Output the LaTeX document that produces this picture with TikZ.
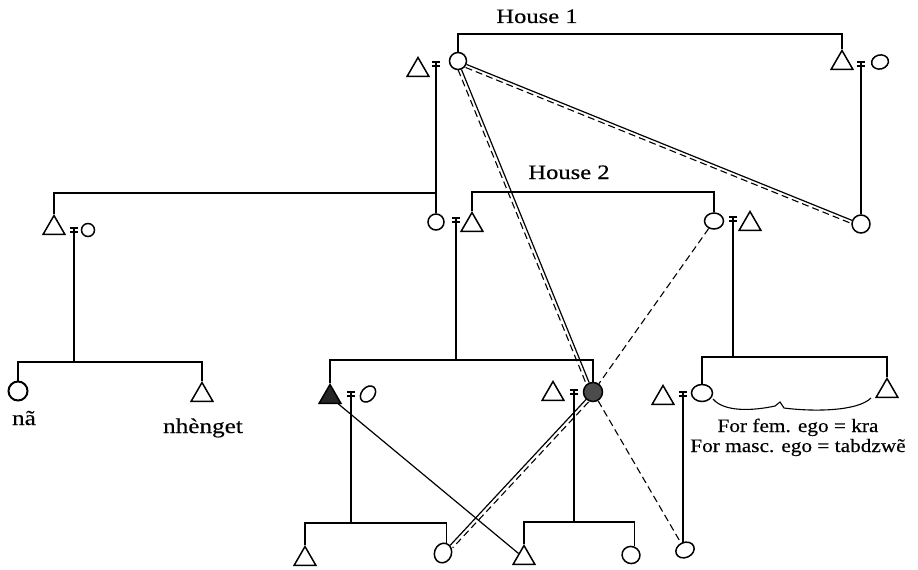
\documentclass[tikz,border=0pt]{standalone}
\usepackage{fontspec}
\setmainfont[FakeStretch=1.12,FakeBold=0.4]{Liberation Serif}
\newfontfamily\widefont[FakeStretch=1.2,FakeBold=0.4]{Liberation Serif}
\usetikzlibrary{shapes.geometric}
\begin{document}
\begin{tikzpicture}[x=1pt,y=-1pt,
  ln/.style={line width=1.2pt},
  dsh/.style={line width=1.1pt, dash pattern=on 7pt off 4pt},
  tri/.style={regular polygon, regular polygon sides=3, draw, line width=1.5pt, minimum size=25pt, inner sep=0pt},
  ftri/.style={tri, fill=black!85},
  circ/.style={circle, draw, line width=1.5pt, inner sep=0pt},
  ell/.style={ellipse, draw, line width=1.5pt, inner sep=0pt},
  eqm/.style={minimum width=8pt, minimum height=8pt, inner sep=0pt,
    path picture={\draw[line width=1.1pt]
      ([yshift=-2pt]path picture bounding box.north west) -- ([yshift=-2pt]path picture bounding box.north east)
      ([yshift=2pt]path picture bounding box.south west) -- ([yshift=2pt]path picture bounding box.south east);}},
  lbl/.style={anchor=base, inner sep=0pt}
]
\useasboundingbox (0,0) rectangle (918,570);

% ---------- generation 1 ----------
\node[tri] (T1) at (418,70) {};
\node[eqm] (E1) at (436,64) {};
\node[circ, minimum size=17pt] (C1) at (458,61) {};
\node[tri] (T2) at (842,63) {};
\node[eqm] (E2) at (861,64) {};
\node[ell, minimum width=17pt, minimum height=14pt, rotate=15] (C2) at (880,62) {};
\node[lbl, font=\widefont\fontsize{20.5}{24}\selectfont] (H1) at (537,23) {House 1};

% ---------- generation 2 ----------
\node[tri] (T3) at (54,228) {};
\node[eqm] (E3) at (74,230) {};
\node[circ, minimum size=13pt] (C3) at (88,230) {};
\node[circ, minimum size=16pt] (C4) at (436,222) {};
\node[eqm] (E4) at (456,220) {};
\node[tri] (T4) at (472,225) {};
\node[ell, minimum width=19pt, minimum height=16pt] (C5) at (714,221) {};
\node[eqm] (E5) at (733,219) {};
\node[tri] (T5) at (750,224) {};
\node[circ, minimum size=18pt] (C6) at (861,224) {};
\node[lbl, font=\widefont\fontsize{20.5}{24}\selectfont] (H2) at (569,179) {House 2};

% ---------- generation 3 ----------
\node[circ, minimum size=19pt, line width=2pt] (C7) at (18,391) {};
\node[tri] (T6) at (202,395) {};
\node[lbl, font=\widefont\fontsize{21}{24}\selectfont] (L1) at (24,425) {nã};
\node[lbl, font=\widefont\fontsize{21}{24}\selectfont] (L2) at (203,433) {nhènget};

\node[ftri] (T7) at (330,397) {};
\node[eqm] (E6) at (351,394) {};
\node[ell, minimum width=13pt, minimum height=18pt, rotate=-40] (C9) at (368,394) {};
\node[tri] (T8) at (553,394) {};
\node[eqm] (E7) at (574,392) {};
\node[circ, minimum size=19pt, fill=black!70] (C8) at (593,392) {};

\node[tri] (T10) at (663,398) {};
\node[eqm] (E8) at (683,394) {};
\node[ell, minimum width=21pt, minimum height=17pt] (C10) at (702,393) {};
\node[tri] (T9) at (887,391) {};
\node[lbl, font=\fontsize{19}{22}\selectfont] (F1) at (798,432) {For fem. ego = kra};
\node[lbl, font=\fontsize{19}{22}\selectfont] (F2) at (798,452) {For masc. ego = tabdzwẽ};

% ---------- generation 4 ----------
\node[tri] (T11) at (305,559) {};
\node[ell, minimum width=17pt, minimum height=20pt, rotate=-20] (C11) at (443,553) {};
\node[tri] (T12) at (524,558) {};
\node[ell, minimum width=18pt, minimum height=17pt, rotate=-20] (C12) at (631,555) {};
\node[ell, minimum width=19pt, minimum height=15pt, rotate=25] (C13) at (685,550) {};

% ---------- descent and sibling lines ----------
\draw[ln] (C1.north) -- (C1.north |- 0,34) -| (T2.north);
\draw[ln] ([yshift=-2pt]E1.north) -- (C4.north);
\draw[ln] (T3.north) |- (C4.north |- 0,193);
\draw[ln] ([yshift=-2pt]E2.north) -- (C6.north);
\draw[ln] (T4.north) -- (T4.north |- 0,192) -| (C5.north);

\draw[ln] ([yshift=-2pt]E3.north) -- (E3.north |- 0,362);
\draw[ln] (C7.north) -- (C7.north |- 0,362) -| (T6.north);
\draw[ln] ([yshift=-2pt]E4.north) -- (E4.north |- 0,360);
\draw[ln] (T7.north) -- (T7.north |- 0,360) -| (C8.north);
\draw[ln] ([yshift=-2pt]E5.north) -- (E5.north |- 0,357);
\draw[ln] (C10.north) -- (C10.north |- 0,357) -| (T9.north);

\draw[ln] ([yshift=-2pt]E6.north) -- (E6.north |- 0,523);
\draw[ln] (T11.north) -- (T11.north |- 0,523) -| (C11.north);
\draw[ln] ([yshift=-2pt]E7.north) -- (E7.north |- 0,522);
\draw[ln] (T12.north) -- (T12.north |- 0,522) -| (C12.north);
\draw[ln] ([yshift=-2pt]E8.north) -- (E8.north |- C13.north);

% ---------- brace ----------
\draw[line width=1.1pt] (713,399) .. controls (724,412) and (752,411) .. (775,406)
  -- (780,402) -- (784,408) .. controls (815,412) and (858,411) .. (871,398);

% ---------- cross lines ----------
\draw[ln] (C1) -- (C6);
\draw[dsh, transform canvas={shift={(-1pt,-3pt)}}] (C1) -- (C6);
\draw[ln] (C1) -- (C8);
\draw[dsh, transform canvas={xshift=-3.5pt}] (C1) -- (C8);
\draw[dsh] (C8) -- (C13);
\draw[dsh] (C5) -- (C8);
\draw[ln] (C8) -- (C11);
\draw[dsh, transform canvas={shift={(2.5pt,-2.5pt)}}] (C8) -- (C11);
\draw[ln] (T7) -- (T12);
\end{tikzpicture}
\end{document}
